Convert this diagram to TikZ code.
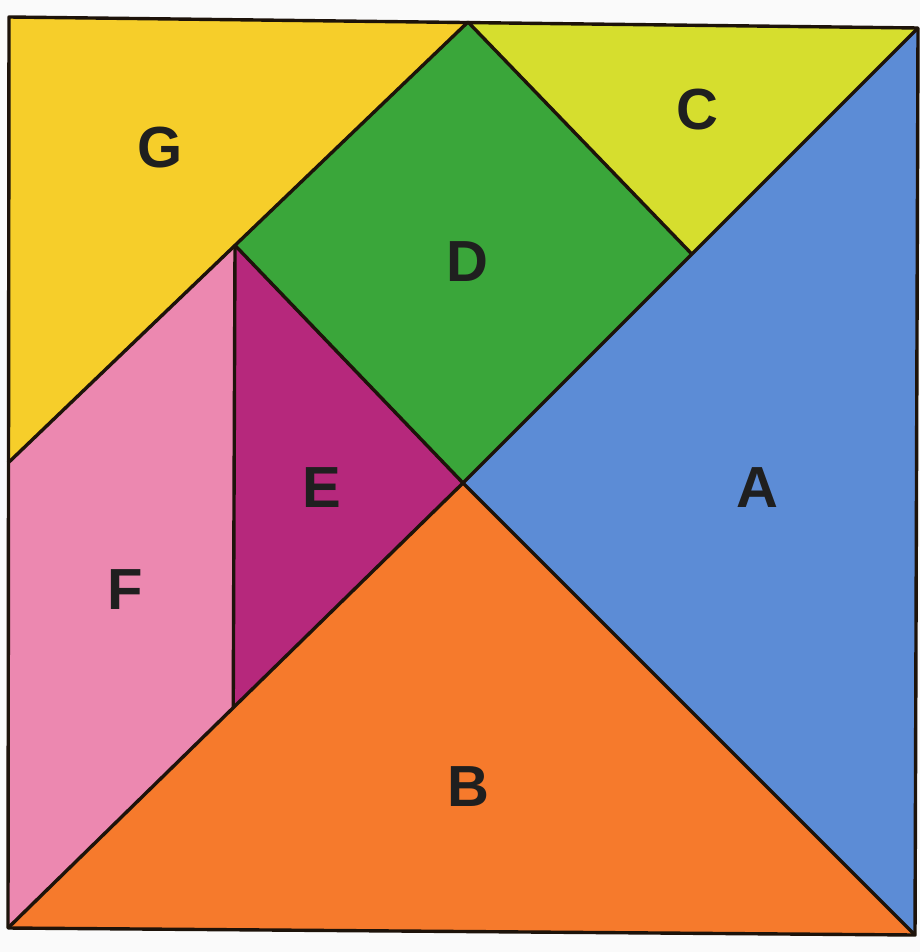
\documentclass[tikz,border=0pt]{standalone}
\usetikzlibrary{calc}
\usepackage{fontspec}
\setmainfont{Liberation Sans}
\begin{document}
\begin{tikzpicture}[x=1pt,y=-1pt,
  piece/.style={draw=black!85!brown, line width=3.4pt, line join=round},
  lbl/.style={font=\fontsize{58}{62}\selectfont\bfseries, text=black!88}]
\definecolor{cG}{RGB}{246,206,42}
\definecolor{cC}{RGB}{214,222,46}
\definecolor{cD}{RGB}{58,166,58}
\definecolor{cA}{RGB}{92,140,214}
\definecolor{cE}{RGB}{182,40,124}
\definecolor{cF}{RGB}{236,136,176}
\definecolor{cB}{RGB}{246,122,44}
\useasboundingbox (0,0) rectangle (920,952);
\fill[white!96!gray] (0,0) rectangle (920,952);
\coordinate (TL) at (9,17);
\coordinate (DT) at (468,22);
\coordinate (TR) at (918,28);
\coordinate (O) at (463,483);
\coordinate (CV) at ($(TR)!0.497!(O)$);
\coordinate (L) at (8,463);
\coordinate (ET) at ($(L)!0.4935!(DT)$);
\coordinate (BL) at (8,928);
\coordinate (BR) at (915,935);
\coordinate (EB) at ($(O)!0.505!(BL)$);
\fill[cG] (TL) -- (DT) -- (ET) -- (L) -- cycle;
\fill[cC] (DT) -- (TR) -- (CV) -- cycle;
\fill[cD] (DT) -- (CV) -- (O) -- (ET) -- cycle;
\fill[cA] (TR) -- (BR) -- (O) -- cycle;
\fill[cB] (BL) -- (BR) -- (O) -- cycle;
\fill[cE] (ET) -- (O) -- (EB) -- cycle;
\fill[cF] (L) -- (ET) -- (EB) -- (BL) -- cycle;
\draw[piece] (TL) -- (TR) -- (BR) -- (BL) -- cycle;
\draw[piece] (L) -- (DT) -- (CV);
\draw[piece] (TR) -- (O) -- (BL);
\draw[piece] (ET) -- (O) -- (BR);
\draw[piece] (ET) -- (EB);
\node[lbl] (g) at (160,148) {G};
\node[lbl] (c) at (697,110) {C};
\node[lbl] (d) at (467,262) {D};
\node[lbl] (e) at (322,488) {E};
\node[lbl] (a) at (757,488) {A};
\node[lbl] (f) at (125,590) {F};
\node[lbl] (b) at (468,787) {B};
\end{tikzpicture}
\end{document}
